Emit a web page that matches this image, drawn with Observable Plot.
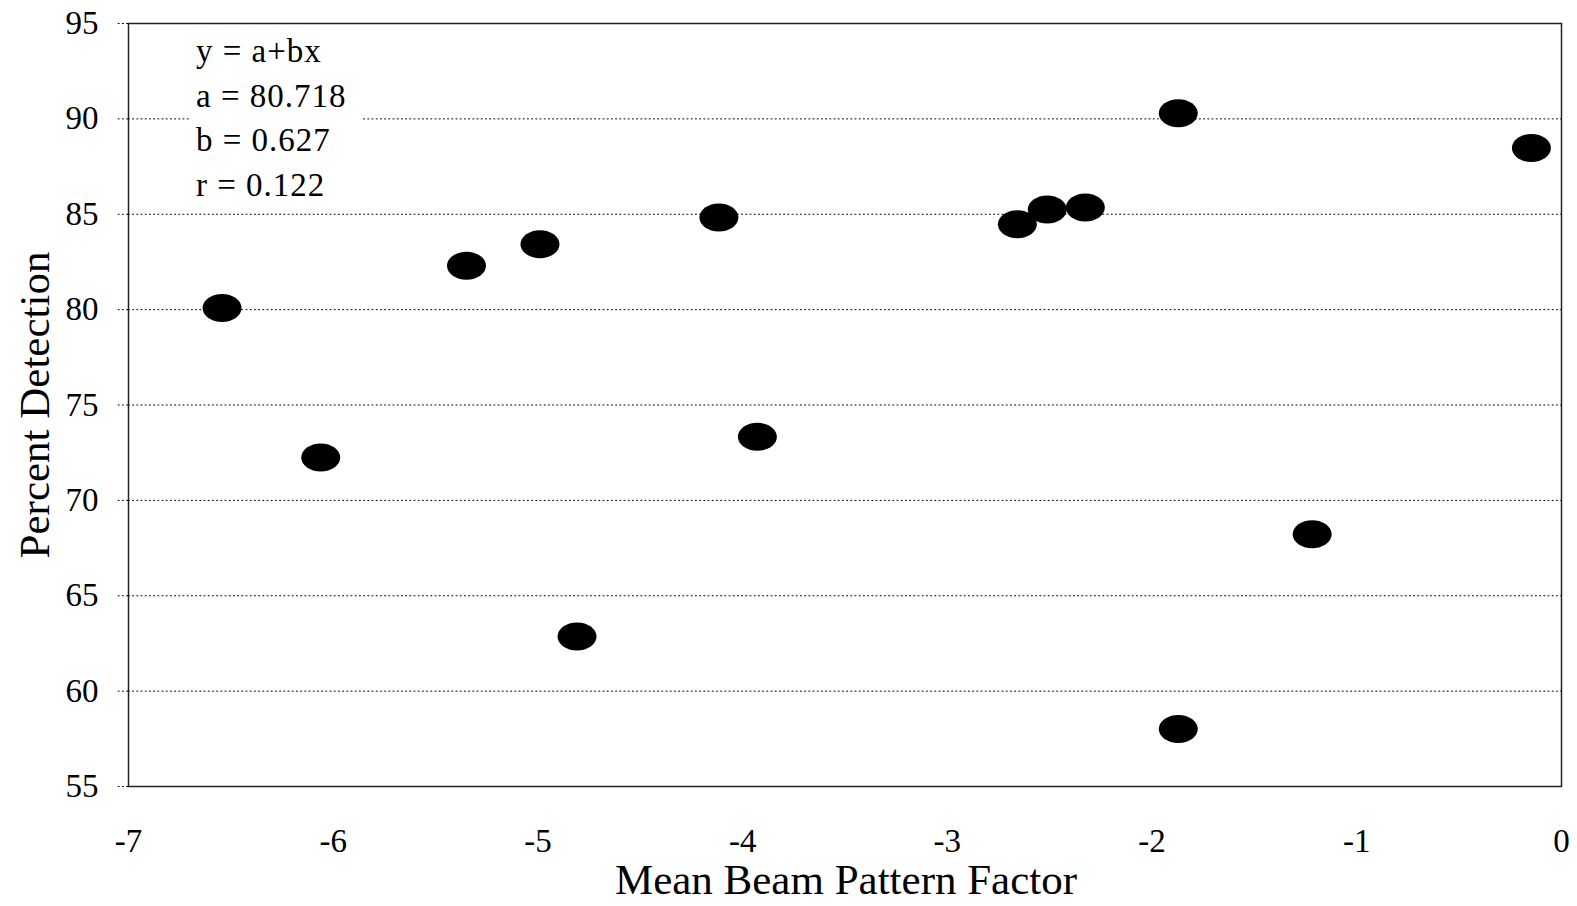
<!DOCTYPE html>
<html>
<head>
<meta charset="utf-8">
<script src="https://cdn.jsdelivr.net/npm/d3@7"></script>
<script src="https://cdn.jsdelivr.net/npm/@observablehq/plot@0.6"></script>
<style>
  html, body { margin: 0; padding: 0; background: #fff; }
  #wrap { position: relative; width: 1577px; height: 906px; font-family: "Liberation Serif", "Times New Roman", serif; }
  #note {
    position: absolute; left: 190px; top: 25px; width: 173px; box-sizing: border-box;
    padding: 4px 0 6px 6px; background: #fff; color: #000;
    font-size: 33px; line-height: 44.5px; letter-spacing: 1px; font-family: "Liberation Serif", "Times New Roman", serif;
  }
  #note div { white-space: nowrap; }
</style>
</head>
<body>
<div id="wrap"></div>
<script>
// Data
const beamFactor = [-6.543, -6.061, -5.349, -4.990, -4.809, -4.116, -3.928, -2.658, -2.512, -2.326, -1.872, -1.872, -1.218, -0.147];
const percentDetection = [80.08, 72.25, 82.30, 83.43, 62.87, 84.83, 73.33, 84.48, 85.25, 85.35, 90.30, 58.01, 68.23, 88.47];
const xTicks = [-7, -6, -5, -4, -3, -2, -1, 0];
const yTicks = [55, 60, 65, 70, 75, 80, 85, 90, 95];
const gridTicks = [60, 65, 70, 75, 80, 85, 90];
const fitLines = ["y = a+bx", "a = 80.718", "b = 0.627", "r = 0.122"];
const xTitle = "Mean Beam Pattern Factor";
const yTitle = "Percent Detection";

const points = beamFactor.map((x, i) => ({x, y: percentDetection[i]}));

// Ellipse-shaped marker
const ellipse = {
  draw(context) {
    const rx = 19.5, ry = 14, k = 0.5523;
    context.moveTo(rx, 0);
    context.bezierCurveTo(rx, k * ry, k * rx, ry, 0, ry);
    context.bezierCurveTo(-k * rx, ry, -rx, k * ry, -rx, 0);
    context.bezierCurveTo(-rx, -k * ry, -k * rx, -ry, 0, -ry);
    context.bezierCurveTo(k * rx, -ry, rx, -k * ry, rx, 0);
    context.closePath();
  }
};

const dash = "1.8,2.4";
const fmt = d => String(d);
const serif = "'Liberation Serif', 'Times New Roman', serif";

const chart = Plot.plot({
  width: 1577,
  height: 906,
  marginLeft: 128,
  marginRight: 16,
  marginTop: 23,
  marginBottom: 120,
  style: { fontFamily: serif, color: "#000", background: "#fff" },
  x: { domain: [-7, 0] },
  y: { domain: [55, 95] },
  marks: [
    Plot.ruleY(gridTicks, { stroke: "#000", strokeWidth: 1, strokeDasharray: dash }),
    Plot.axisY({ ticks: yTicks, tickSize: 12, tickPadding: 18, fontSize: 33, tickFormat: fmt, label: null, stroke: "#000", strokeDasharray: dash, strokeWidth: 1 }),
    Plot.axisX({ ticks: xTicks, tickSize: 0, tickPadding: 42, fontSize: 33, tickFormat: fmt, label: null }),
    Plot.frame({ stroke: "#222", strokeWidth: 1.5 }),
    Plot.dot(points, { x: "x", y: "y", symbol: ellipse, fill: "#000", stroke: null }),
    Plot.text([xTitle], { text: d => d, frameAnchor: "bottom", lineAnchor: "bottom", textAnchor: "middle", dy: 107, dx: 1, fontSize: 43 }),
    Plot.text([yTitle], { text: d => d, frameAnchor: "left", lineAnchor: "bottom", textAnchor: "middle", rotate: -90, dx: -80, fontSize: 43 })
  ]
});

// Force the serif face on every text element of the chart
chart.querySelectorAll("text").forEach(t => { t.style.fontFamily = serif; t.style.fontVariant = "normal"; });

const wrap = document.getElementById("wrap");
wrap.appendChild(chart);
const note = document.createElement("div");
note.id = "note";
fitLines.forEach(t => { const d = document.createElement("div"); d.textContent = t; note.appendChild(d); });
wrap.appendChild(note);
</script>
</body>
</html>
